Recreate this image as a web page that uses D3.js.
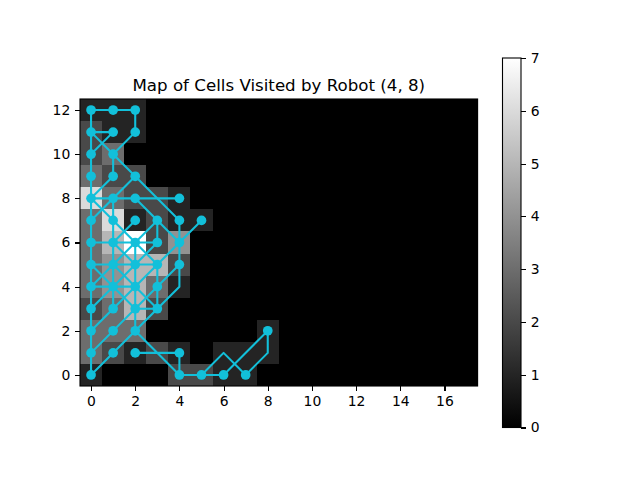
<!DOCTYPE html>
<html>
<head>
<meta charset="utf-8">
<script src="https://cdn.jsdelivr.net/npm/d3@7"></script>
<style>
  html, body { margin: 0; background: #fff; }
  text { font-family: "DejaVu Sans", sans-serif; fill: #000; }
</style>
</head>
<body>
<svg id="chart" width="640" height="480"></svg>
<script>
const titleText = "Map of Cells Visited by Robot (4, 8)";
const xTicks = [0, 2, 4, 6, 8, 10, 12, 14, 16];
const yTicks = [0, 2, 4, 6, 8, 10, 12];
const barTicks = [0, 1, 2, 3, 4, 5, 6, 7];

// visit counts, top row (y = 12) first, columns x = 0..8 (the rest is 0)
const visits = [
  [1, 1, 1, 0, 0, 0, 0, 0, 0],
  [2, 1, 1, 0, 0, 0, 0, 0, 0],
  [2, 3, 0, 0, 0, 0, 0, 0, 0],
  [3, 2, 2, 0, 0, 0, 0, 0, 0],
  [6, 3, 2, 2, 1, 0, 0, 0, 0],
  [3, 6, 1, 2, 1, 1, 0, 0, 0],
  [3, 5, 7, 2, 4, 0, 0, 0, 0],
  [3, 4, 5, 5, 2, 0, 0, 0, 0],
  [3, 4, 5, 3, 1, 0, 0, 0, 0],
  [2, 3, 5, 2, 0, 0, 0, 0, 0],
  [3, 3, 3, 0, 0, 0, 0, 0, 1],
  [3, 2, 1, 2, 1, 0, 1, 1, 1],
  [1, 0, 0, 0, 2, 2, 1, 1, 0]
];
const nCols = 18;
const nRows = 13;

// robot track, pieces as [x, y]
const tracks = [
  [[0,0],[0,12],[2,12],[2,11],[1,10],[0,11],[1,11],[0,10]],
  [[1,10],[1,9],[0,8],[4,8]],
  [[1,10],[2,9],[4,7],[4,5]],
  [[2,9],[0,7]],
  [[0,8],[3,5]],
  [[2,8],[4,6]],
  [[0,0],[4,4],[4,5]],
  [[2,2],[4,0],[4,1],[2,1]],
  [[4,0],[6,0],[8,2],[8,1],[7,0],[6,1],[5,0]],
  [[0,1],[4,5]],
  [[0,2],[5,7]],
  [[0,3],[3,6],[3,7]],
  [[0,4],[3,7]],
  [[1,6],[2,7]],
  [[2,2],[2,6]],
  [[1,3],[1,8]],
  [[3,3],[3,5]],
  [[0,6],[3,6]],
  [[0,5],[3,5]],
  [[0,4],[2,4]],
  [[2,3],[3,3]],
  [[0,5],[2,3]],
  [[1,5],[3,3]],
  [[1,6],[2,5]]
];
const markers = [
  [0,12],[1,12],[2,12],[0,11],[1,11],[2,11],[0,10],[1,10],[0,9],[1,9],[2,9],
  [0,8],[1,8],[2,8],[4,8],[0,7],[1,7],[2,7],[3,7],[4,7],[5,7],
  [0,6],[1,6],[2,6],[3,6],[4,6],[0,5],[1,5],[2,5],[3,5],[4,5],
  [0,4],[1,4],[2,4],[3,4],[0,3],[1,3],[2,3],[3,3],[0,2],[1,2],[2,2],
  [0,1],[1,1],[2,1],[4,1],[0,0],[4,0],[5,0],[6,0],[7,0],[8,2]
];

const svg = d3.select("#chart");
const x = d3.scaleLinear().domain([-0.5, 17.5]).range([80, 477.6]);
const y = d3.scaleLinear().domain([-0.5, 12.5]).range([386, 99]);
const gray = d3.scaleLinear().domain([0, 7]).range(["#000000", "#ffffff"]);
const trackColor = "#12c0da";

// heat map cells
const cells = [];
for (let r = 0; r < nRows; r++) {
  for (let c = 0; c < nCols; c++) {
    cells.push({ x: c, y: nRows - 1 - r, v: visits[r][c] || 0 });
  }
}
svg.append("g").attr("shape-rendering", "crispEdges").selectAll("rect")
  .data(cells)
  .join("rect")
    .attr("x", d => Math.round(x(d.x - 0.5)))
    .attr("y", d => Math.round(y(d.y + 0.5)))
    .attr("width", d => Math.round(x(d.x + 0.5)) - Math.round(x(d.x - 0.5)))
    .attr("height", d => Math.round(y(d.y - 0.5)) - Math.round(y(d.y + 0.5)))
    .attr("fill", d => gray(d.v));

const line = d3.line().x(d => x(d[0])).y(d => y(d[1]));
svg.append("g").selectAll("path")
  .data(tracks)
  .join("path")
    .attr("d", line)
    .attr("fill", "none")
    .attr("stroke", trackColor)
    .attr("stroke-width", 2.08)
    .attr("stroke-linejoin", "round");
svg.append("g").selectAll("circle")
  .data(markers)
  .join("circle")
    .attr("cx", d => x(d[0]))
    .attr("cy", d => y(d[1]))
    .attr("r", 4.86)
    .attr("fill", trackColor);

function styleAxis(g) {
  g.selectAll("path").attr("stroke", "#000").attr("stroke-width", 1.1);
  g.selectAll("line").attr("stroke", "#000").attr("stroke-width", 1.1).attr("shape-rendering", "crispEdges");
  g.selectAll("text").attr("font-size", 13.9).attr("font-family", "DejaVu Sans");
}

svg.append("g")
  .attr("transform", "translate(0,386)")
  .call(d3.axisBottom(x).tickValues(xTicks).tickFormat(d3.format("d")).tickSize(4.86).tickPadding(4.9))
  .call(styleAxis)
  .call(g => g.select(".domain").remove());
svg.append("g")
  .attr("transform", "translate(80,0)")
  .call(d3.axisLeft(y).tickValues(yTicks).tickFormat(d3.format("d")).tickSize(4.86).tickPadding(4.9))
  .call(styleAxis)
  .call(g => g.select(".domain").remove());

svg.append("rect")
  .attr("x", 80).attr("y", 99).attr("width", 397.6).attr("height", 287)
  .attr("fill", "none").attr("stroke", "#000").attr("stroke-width", 1.1);

svg.append("text")
  .attr("x", 278.8).attr("y", 91)
  .attr("text-anchor", "middle")
  .attr("font-size", 16.67)
  .text(titleText);

// colour bar
const barY = d3.scaleLinear().domain([0, 7]).range([427.5, 58]);
const defs = svg.append("defs");
const grad = defs.append("linearGradient")
  .attr("id", "barFill")
  .attr("x1", 0).attr("x2", 0).attr("y1", 1).attr("y2", 0);
grad.append("stop").attr("offset", 0).attr("stop-color", gray(0));
grad.append("stop").attr("offset", 1).attr("stop-color", gray(7));
svg.append("rect")
  .attr("x", 502.5).attr("y", 58).attr("width", 18.5).attr("height", 369.5)
  .attr("fill", "url(#barFill)")
  .attr("stroke", "#000").attr("stroke-width", 1.1);
svg.append("g")
  .attr("transform", "translate(521,0)")
  .call(d3.axisRight(barY).tickValues(barTicks).tickFormat(d3.format("d")).tickSize(4.86).tickPadding(4.9))
  .call(styleAxis)
  .call(g => g.select(".domain").remove());
</script>
</body>
</html>
